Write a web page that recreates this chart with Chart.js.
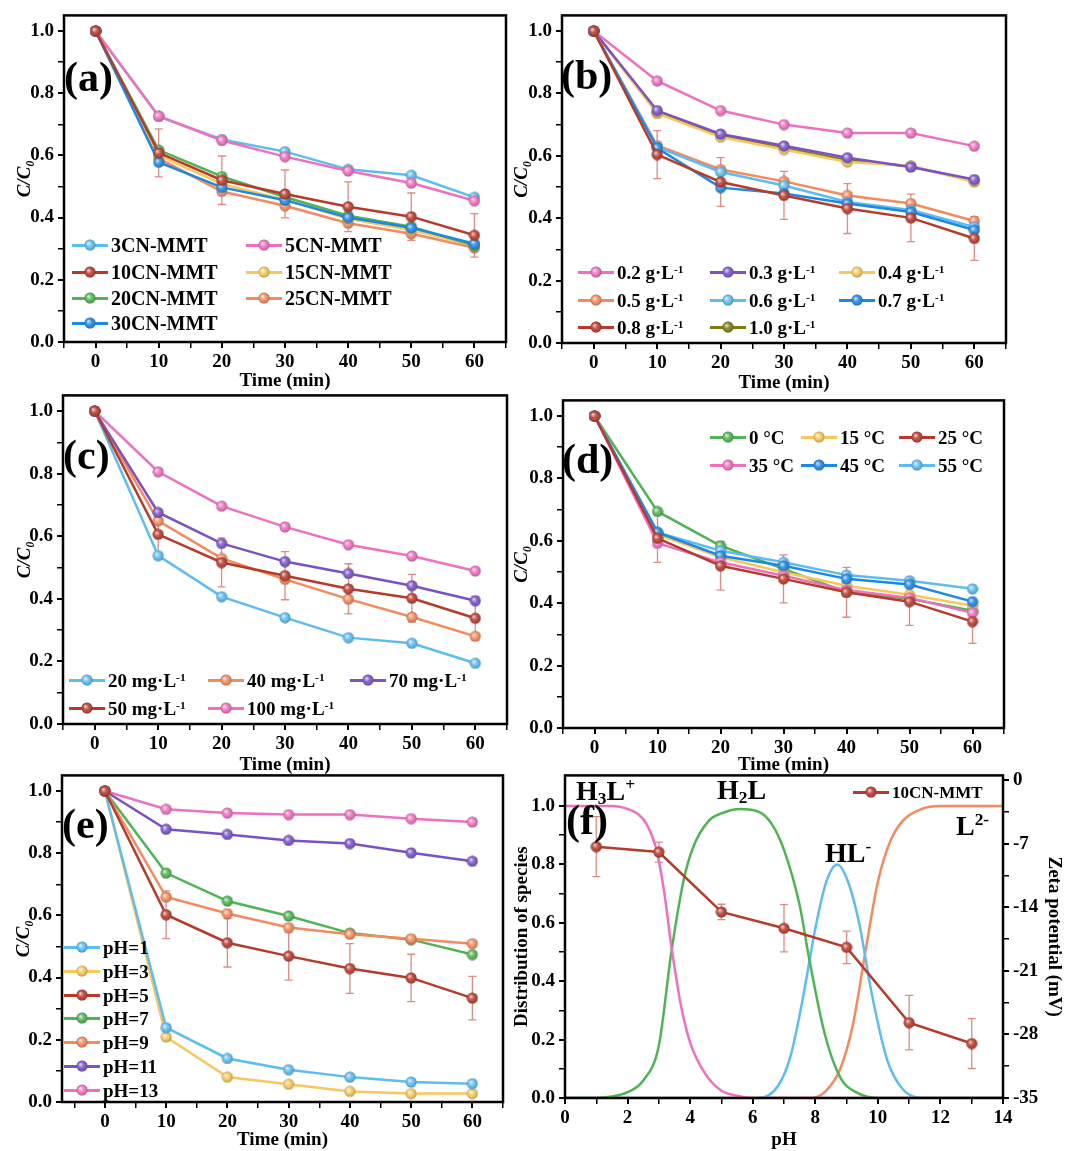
<!DOCTYPE html>
<html>
<head>
<meta charset="utf-8">
<script src="https://cdn.jsdelivr.net/npm/chart.js@4.4.1/dist/chart.umd.min.js"></script>
<style>
body { margin:0; background:#fff; width:1067px; height:1151px; position:relative; overflow:hidden; font-family:'Liberation Serif','Times New Roman',serif; }
canvas { position:absolute; }
.letra { position:absolute; font-size:42px; font-weight:bold; line-height:1; }
.esp { position:absolute; font-size:28px; font-weight:bold; line-height:1; white-space:nowrap; }
.esp sub { font-size:0.62em; vertical-align:-0.25em; }
.esp sup { font-size:0.62em; vertical-align:0.55em; }
.leg { position:absolute; font-weight:bold; white-space:nowrap; display:flex; align-items:center; line-height:1; }
.sim { position:relative; display:inline-block; width:36px; height:12px; margin-right:3px; }
.sim i { position:absolute; left:0; top:4.5px; width:36px; height:3px; }
.sim img { position:absolute; left:12px; top:0; }
.leg sup { font-size:0.6em; position:relative; top:-0.5em; vertical-align:baseline; }
</style>
</head>
<body>
<script>
// ejes
var tiempo = [0, 10, 20, 30, 40, 50, 60]
var marcasT = [0, 10, 20, 30, 40, 50, 60]
var menoresT = [-5, 5, 15, 25, 35, 45, 55, 65]
var marcasC = [0, 0.2, 0.4, 0.6, 0.8, 1.0]
var menoresC = [0.1, 0.3, 0.5, 0.7, 0.9]
var marcasPH = [0, 2, 4, 6, 8, 10, 12, 14]
var menoresPH = [1, 3, 5, 7, 9, 11, 13]
var marcasZeta = [0, -7, -14, -21, -28, -35]
var menoresZeta = [-3.5, -10.5, -17.5, -24.5, -31.5]

// (a) contenido de CN
var nombresA = ['3CN-MMT', '5CN-MMT', '10CN-MMT', '15CN-MMT', '20CN-MMT', '25CN-MMT', '30CN-MMT']
var a3CN  = [1.0, 0.725, 0.651, 0.612, 0.555, 0.536, 0.465]
var a5CN  = [1.0, 0.726, 0.648, 0.596, 0.550, 0.511, 0.454]
var a10CN = [1.0, 0.608, 0.520, 0.476, 0.435, 0.403, 0.343]
var a15CN = [1.0, 0.600, 0.508, 0.457, 0.396, 0.360, 0.310]
var a20CN = [1.0, 0.617, 0.532, 0.466, 0.406, 0.371, 0.310]
var a25CN = [1.0, 0.590, 0.484, 0.438, 0.382, 0.348, 0.303]
var a30CN = [1.0, 0.578, 0.497, 0.456, 0.400, 0.367, 0.316]
var errorRojo = [0, 0.077, 0.078, 0.077, 0.080, 0.076, 0.070]

// (b) dosis
var nombresB = ['0.2 g·L<sup>-1</sup>', '0.3 g·L<sup>-1</sup>', '0.4 g·L<sup>-1</sup>', '0.5 g·L<sup>-1</sup>', '0.6 g·L<sup>-1</sup>', '0.7 g·L<sup>-1</sup>', '0.8 g·L<sup>-1</sup>', '1.0 g·L<sup>-1</sup>']
var b02 = [1.0, 0.840, 0.745, 0.700, 0.673, 0.673, 0.631]
var b03 = [1.0, 0.745, 0.670, 0.632, 0.594, 0.564, 0.524]
var b04 = [1.0, 0.736, 0.660, 0.620, 0.580, 0.568, 0.516]
var b05 = [1.0, 0.633, 0.556, 0.518, 0.473, 0.447, 0.391]
var b06 = [1.0, 0.628, 0.548, 0.505, 0.452, 0.426, 0.372]
var b07 = [1.0, 0.625, 0.498, 0.479, 0.447, 0.420, 0.362]
var b08 = [1.0, 0.604, 0.516, 0.473, 0.431, 0.401, 0.335]
var b10 = [1.0, 0.738, 0.664, 0.625, 0.586, 0.566, 0.520]

// (c) concentracion inicial
var nombresC = ['20 mg·L<sup>-1</sup>', '40 mg·L<sup>-1</sup>', '70 mg·L<sup>-1</sup>', '50 mg·L<sup>-1</sup>', '100 mg·L<sup>-1</sup>']
var c20  = [1.0, 0.538, 0.407, 0.340, 0.276, 0.258, 0.194]
var c40  = [1.0, 0.649, 0.529, 0.462, 0.399, 0.342, 0.280]
var c70  = [1.0, 0.676, 0.577, 0.519, 0.481, 0.442, 0.394]
var c50  = [1.0, 0.606, 0.516, 0.474, 0.432, 0.402, 0.338]
var c100 = [1.0, 0.806, 0.696, 0.630, 0.573, 0.537, 0.489]

// (d) temperatura
var nombresD = ['0 °C', '15 °C', '25 °C', '35 °C', '45 °C', '55 °C']
var d0  = [1.0, 0.694, 0.584, 0.510, 0.435, 0.414, 0.376]
var d15 = [1.0, 0.620, 0.547, 0.499, 0.456, 0.427, 0.392]
var d25 = [1.0, 0.608, 0.520, 0.478, 0.435, 0.405, 0.341]
var d35 = [1.0, 0.592, 0.531, 0.488, 0.442, 0.417, 0.369]
var d45 = [1.0, 0.627, 0.552, 0.520, 0.478, 0.460, 0.405]
var d55 = [1.0, 0.627, 0.568, 0.531, 0.490, 0.472, 0.446]

// (e) pH
var nombresE = ['pH=1', 'pH=3', 'pH=5', 'pH=7', 'pH=9', 'pH=11', 'pH=13']
var e1  = [1.0, 0.239, 0.140, 0.104, 0.080, 0.064, 0.059]
var e3  = [1.0, 0.209, 0.080, 0.057, 0.034, 0.027, 0.027]
var e5  = [1.0, 0.602, 0.512, 0.469, 0.429, 0.399, 0.334]
var e7  = [1.0, 0.736, 0.646, 0.598, 0.543, 0.522, 0.474]
var e9  = [1.0, 0.659, 0.606, 0.561, 0.539, 0.525, 0.509]
var e11 = [1.0, 0.877, 0.860, 0.841, 0.831, 0.801, 0.774]
var e13 = [1.0, 0.941, 0.929, 0.924, 0.924, 0.911, 0.900]

// (f) especies y potencial zeta
var phH3L = [0, 1.5, 2, 2.3, 2.6, 2.9, 3.15, 3.4, 3.7, 4.0, 4.5, 5.0, 5.5, 6, 14]
var fH3L  = [1, 1, 0.99, 0.975, 0.94, 0.86, 0.72, 0.52, 0.32, 0.19, 0.08, 0.025, 0.008, 0, 0]
var phH2L = [0, 1, 1.5, 2, 2.5, 3.0, 3.4, 3.8, 4.1, 4.6, 5.0, 5.6, 6.2, 6.6, 7.0, 7.5, 7.8, 8.3, 8.8, 9.3, 10, 14]
var fH2L  = [0, 0, 0.005, 0.02, 0.06, 0.18, 0.5, 0.75, 0.86, 0.95, 0.975, 0.99, 0.98, 0.94, 0.85, 0.66, 0.48, 0.22, 0.07, 0.02, 0, 0]
var phHL  = [0, 6.2, 6.8, 7.2, 7.6, 8.0, 8.35, 8.7, 9.05, 9.4, 9.8, 10.3, 10.8, 11.5, 14]
var fHL   = [0, 0, 0.04, 0.14, 0.34, 0.58, 0.74, 0.80, 0.74, 0.6, 0.36, 0.13, 0.03, 0, 0]
var phL   = [0, 7.8, 8.3, 8.8, 9.2, 9.6, 10.0, 10.4, 10.8, 11.4, 12, 14]
var fL    = [0, 0, 0.02, 0.1, 0.25, 0.5, 0.74, 0.88, 0.95, 0.99, 1, 1]
var phZeta = [1, 3, 5, 7, 9, 11, 13]
var zeta = [-7.3, -7.9, -14.5, -16.3, -18.4, -26.7, -29.0]
var errorZeta = [3.3, 1.1, 0.85, 2.6, 1.8, 3.0, 2.75]

var celeste = '#5cbdf2', rosa = '#f06fbf', rojo = '#b83a2b', amarillo = '#f8c85c', verde = '#4fb453',
    naranja = '#f6895d', azul = '#1e88e5', morado = '#7a52c7', oliva = '#7d7a12'
var colorError = 'rgba(214,120,110,0.85)'

var familia = "'Liberation Serif', 'Times New Roman', serif"
var fTick = { family: familia, size: 19, weight: 'bold' }
var fTitulo = { family: familia, size: 19, weight: 'bold' }
var fCursiva = { family: familia, size: 19, weight: 'bold', style: 'italic' }
var fGrande = { family: familia, size: 19, weight: 'bold' }

function bola(color) {
    var c = document.createElement('canvas')
    c.width = 12; c.height = 12
    var g = c.getContext('2d')
    g.beginPath(); g.arc(6, 6, 5.5, 0, Math.PI * 2)
    g.fillStyle = color; g.fill()
    var r = g.createRadialGradient(4.3, 4.3, 0.4, 6, 6, 5.7)
    r.addColorStop(0, 'rgba(255,255,255,0.75)')
    r.addColorStop(0.45, 'rgba(255,255,255,0.12)')
    r.addColorStop(1, 'rgba(0,0,0,0.28)')
    g.fillStyle = r; g.fill()
    return c
}

function serie(nombre, xs, ys, color, extra) {
    var d = {
        label: nombre.replace(/<[^>]+>/g, ''),
        data: xs.map(function (x, i) { return { x: x, y: ys[i] } }),
        borderColor: color, backgroundColor: color, borderWidth: 2.5,
        pointStyle: bola(color), pointRadius: 6, tension: 0
    }
    for (var k in extra) d[k] = extra[k]
    return d
}

function curva(nombre, xs, ys, color) {
    return serie(nombre, xs, ys, color, { pointRadius: 0, pointStyle: 'circle', cubicInterpolationMode: 'monotone', order: 5 })
}

function eje(pos, min, max, marcas, menores, fmt, titulo, tam, padT, fuente) {
    var horizontal = pos === 'bottom'
    return {
        type: 'linear', position: pos, min: min, max: max,
        afterBuildTicks: function (s) {
            s.ticks = marcas.concat(menores).sort(function (a, b) { return a - b }).map(function (v) { return { value: v } })
        },
        afterFit: function (s) { if (horizontal) s.height = tam; else s.width = tam },
        ticks: {
            autoSkip: false, maxRotation: 0, padding: horizontal ? 3 : 4, color: '#000', font: fTick,
            callback: function (v) { return marcas.indexOf(v) >= 0 ? fmt(v) : '' }
        },
        grid: {
            drawOnChartArea: false, drawTicks: true, tickLength: 6, color: '#000',
            lineWidth: function (c) { return c.tick && marcas.indexOf(c.tick.value) >= 0 ? 2 : 1.5 }
        },
        border: { display: false },
        title: {
            display: true, text: titulo, color: '#000', font: fuente || fTitulo,
            padding: horizontal ? { top: 0, bottom: padT } : { top: padT, bottom: 0 }
        }
    }
}

var unDecimal = function (v) { return v.toFixed(1) }

var marco = {
    id: 'marco',
    afterDatasetsDraw: function (chart) {
        var a = chart.chartArea, g = chart.ctx
        g.save()
        g.strokeStyle = '#000'; g.lineWidth = 2.5
        g.strokeRect(a.left, a.top, a.right - a.left, a.bottom - a.top)
        g.restore()
    }
}

var barras = {
    id: 'barras',
    beforeDatasetsDraw: function (chart) {
        var g = chart.ctx
        chart.data.datasets.forEach(function (ds, i) {
            if (!ds.errores) return
            var meta = chart.getDatasetMeta(i)
            var ey = chart.scales[meta.yAxisID]
            g.save()
            g.strokeStyle = colorError; g.lineWidth = 1.3
            meta.data.forEach(function (p, j) {
                var e = ds.errores[j]
                if (!e) return
                var v = ds.data[j].y
                var y1 = ey.getPixelForValue(v + e), y2 = ey.getPixelForValue(v - e)
                g.beginPath()
                g.moveTo(p.x, y1); g.lineTo(p.x, y2)
                g.moveTo(p.x - 4, y1); g.lineTo(p.x + 4, y1)
                g.moveTo(p.x - 4, y2); g.lineTo(p.x + 4, y2)
                g.stroke()
            })
            g.restore()
        })
    }
}

function grafico(x, y, w, h, pt, pr, series, ejes) {
    var c = document.createElement('canvas')
    c.width = w; c.height = h
    c.style.left = x + 'px'; c.style.top = y + 'px'
    document.body.appendChild(c)
    return new Chart(c, {
        type: 'line',
        data: { datasets: series },
        options: {
            responsive: false, animation: false, events: [],
            layout: { padding: { top: pt, right: pr, left: 0, bottom: 0 } },
            plugins: { legend: { display: false }, tooltip: { enabled: false } },
            scales: ejes
        },
        plugins: [barras, marco]
    })
}

function ejesTiempo(minX, anchoY, altoX, padY) {
    return {
        x: eje('bottom', minX, 65, marcasT, menoresT, String, 'Time (min)', altoX, 1.6),
        y: eje('left', 0, 1.05, marcasC, menoresC, unDecimal, 'C/C₀', anchoY, padY, fCursiva)
    }
}

function leyenda(nombres, colores, cols, filas, tam) {
    nombres.forEach(function (n, i) {
        var d = document.createElement('div')
        d.className = 'leg'
        d.style.left = cols[i % cols.length] + 'px'
        d.style.top = (filas[Math.floor(i / cols.length)] - tam / 2) + 'px'
        d.style.height = tam + 'px'
        d.style.fontSize = tam + 'px'
        d.innerHTML = '<span class="sim"><i style="background:' + colores[i] + '"></i><img src="' + bola(colores[i]).toDataURL() + '"></span><span>' + n + '</span>'
        document.body.appendChild(d)
    })
}

function texto(clase, html, x, y) {
    var d = document.createElement('div')
    d.className = clase
    d.innerHTML = html
    d.style.left = x + 'px'; d.style.top = y + 'px'
    document.body.appendChild(d)
}

// (a)
var coloresA = [celeste, rosa, rojo, amarillo, verde, naranja, azul]
grafico(0, 0, 516, 394, 14, 10, [
    serie(nombresA[2], tiempo, a10CN, rojo, { errores: errorRojo, order: 0 }),
    serie(nombresA[1], tiempo, a5CN, rosa, { order: 1 }),
    serie(nombresA[0], tiempo, a3CN, celeste, { order: 2 }),
    serie(nombresA[6], tiempo, a30CN, azul, { order: 3 }),
    serie(nombresA[4], tiempo, a20CN, verde, { order: 4 }),
    serie(nombresA[3], tiempo, a15CN, amarillo, { order: 5 }),
    serie(nombresA[5], tiempo, a25CN, naranja, { order: 6 })
], ejesTiempo(-5, 64, 52, 13.6))
leyenda(nombresA, coloresA, [72, 246], [245, 272, 298, 323], 20)

// (b)
var coloresB = [rosa, morado, amarillo, naranja, celeste, azul, rojo, oliva]
grafico(505, 0, 511, 396, 14, 10, [
    serie(nombresB[6], tiempo, b08, rojo, { errores: errorRojo, order: 0 }),
    serie(nombresB[5], tiempo, b07, azul, { order: 1 }),
    serie(nombresB[4], tiempo, b06, celeste, { order: 2 }),
    serie(nombresB[3], tiempo, b05, naranja, { order: 3 }),
    serie(nombresB[1], tiempo, b03, morado, { order: 4 }),
    serie(nombresB[2], tiempo, b04, amarillo, { order: 5 }),
    serie(nombresB[0], tiempo, b02, rosa, { order: 6 }),
    serie(nombresB[7], tiempo, b10, oliva, { order: 7 })
], ejesTiempo(-5, 57, 53, 5.6))
leyenda(nombresB, coloresB, [578, 710, 839], [272, 300, 327], 19)

// (c)
var coloresC = [celeste, naranja, morado, rojo, rosa]
grafico(0, 380, 517, 398, 15, 10, [
    serie(nombresC[3], tiempo, c50, rojo, { errores: errorRojo, order: 0 }),
    serie(nombresC[2], tiempo, c70, morado, { order: 1 }),
    serie(nombresC[1], tiempo, c40, naranja, { order: 2 }),
    serie(nombresC[0], tiempo, c20, celeste, { order: 3 }),
    serie(nombresC[4], tiempo, c100, rosa, { order: 4 })
], ejesTiempo(-5, 63, 54, 13.6))
leyenda(nombresC, coloresC, [69, 208, 350], [680, 708], 19)

// (d)
var coloresD = [verde, amarillo, rojo, rosa, azul, celeste]
grafico(505, 385, 509, 393, 15, 10, [
    serie(nombresD[2], tiempo, d25, rojo, { errores: errorRojo, order: 0 }),
    serie(nombresD[3], tiempo, d35, rosa, { order: 1 }),
    serie(nombresD[4], tiempo, d45, azul, { order: 2 }),
    serie(nombresD[5], tiempo, d55, celeste, { order: 3 }),
    serie(nombresD[1], tiempo, d15, amarillo, { order: 4 }),
    serie(nombresD[0], tiempo, d0, verde, { order: 5 })
], ejesTiempo(-5, 58, 50, 5.6))
leyenda(nombresD, coloresD, [710, 801, 899], [437, 465], 19)

// (e)
var coloresE = [celeste, amarillo, rojo, verde, naranja, morado, rosa]
grafico(0, 760, 513, 393, 15, 10, [
    serie(nombresE[2], tiempo, e5, rojo, { errores: errorRojo, order: 0 }),
    serie(nombresE[4], tiempo, e9, naranja, { order: 1 }),
    serie(nombresE[3], tiempo, e7, verde, { order: 2 }),
    serie(nombresE[5], tiempo, e11, morado, { order: 3 }),
    serie(nombresE[6], tiempo, e13, rosa, { order: 4 }),
    serie(nombresE[0], tiempo, e1, celeste, { order: 5 }),
    serie(nombresE[1], tiempo, e3, amarillo, { order: 6 })
], ejesTiempo(-7, 62, 51, 12.6))
leyenda(nombresE, coloresE, [64], [947, 971, 995, 1018, 1042, 1066, 1090], 19)

// (f)
grafico(505, 760, 562, 393, 15, 0, [
    serie('10CN-MMT', phZeta, zeta, rojo, { yAxisID: 'y2', errores: errorZeta, order: 0 }),
    curva('H3L+', phH3L, fH3L, rosa),
    curva('H2L', phH2L, fH2L, verde),
    curva('HL-', phHL, fHL, celeste),
    curva('L2-', phL, fL, naranja)
], {
    x: eje('bottom', 0, 14, marcasPH, menoresPH, String, 'pH', 55, 1.6),
    y: eje('left', 0, 1.105, marcasC, menoresC, unDecimal, 'Distribution of species', 60, 5.6, fGrande),
    y2: eje('right', -35, 0.55, marcasZeta, menoresZeta, String, 'Zeta potential (mV)', 64, 1.6, fGrande)
})
leyenda(['10CN-MMT'], [rojo], [853], [792], 17)

texto('esp', 'H<sub>3</sub>L<sup>+</sup>', 576, 776)
texto('esp', 'H<sub>2</sub>L', 717, 776)
texto('esp', 'HL<sup>-</sup>', 825, 838)
texto('esp', 'L<sup>2-</sup>', 956, 811)

texto('letra', '(a)', 64, 56)
texto('letra', '(b)', 561, 54)
texto('letra', '(c)', 63, 434)
texto('letra', '(d)', 562, 438)
texto('letra', '(e)', 62, 803)
texto('letra', '(f)', 566, 799)
</script>
</body>
</html>
